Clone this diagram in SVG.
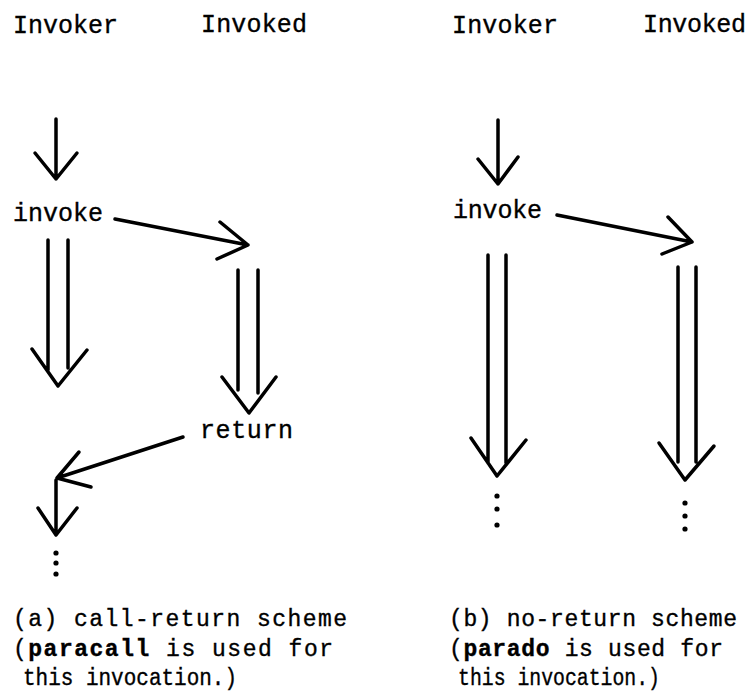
<svg xmlns="http://www.w3.org/2000/svg" width="751" height="691" viewBox="0 0 751 691">
<style>
text{font-family:"Liberation Mono","Courier New",monospace;font-size:25px;fill:#000;stroke:#000;stroke-width:0.35}
.cap{font-size:23px}
.b{font-weight:bold}
.ln{fill:none;stroke:#000;stroke-width:3.5;stroke-linecap:round;stroke-linejoin:round}
.dot{fill:#000}
</style>
<rect width="751" height="691" fill="#fff"/>
<g id="header-invoker-a"><text x="13" y="33" textLength="105">Invoker</text></g>
<g id="header-invoked-a"><text x="201" y="32" textLength="106">Invoked</text></g>
<g id="header-invoker-b"><text x="452" y="33" textLength="106">Invoker</text></g>
<g id="header-invoked-b"><text x="643" y="32" textLength="103">Invoked</text></g>
<g id="invoke-a"><text x="13" y="221" textLength="90">invoke</text></g>
<g id="return-a"><text x="200" y="438" textLength="93">return</text></g>
<g id="invoke-b"><text x="453" y="218" textLength="89">invoke</text></g>
<g id="connectors">
<path class="ln" d="M56 119V179M35 153L56 179L77 153"/>
<path class="ln" d="M115 219L248 245M220 222L248 245L217 259"/>
<path class="ln" d="M48 240V370M68 240V368M32 349L58 386L87 350"/>
<path class="ln" d="M238 270V390M258 270V393M222 377L249 413L276 377"/>
<path class="ln" d="M183 437L57 478M79 452L57 478L91 487"/>
<path class="ln" d="M56 480V533M38 508L56 535L77 508"/>
<circle class="dot" cx="56" cy="553" r="2.6"/><circle class="dot" cx="56" cy="563" r="2.6"/><circle class="dot" cx="56" cy="574" r="2.6"/>
<path class="ln" d="M498 120V184M478 159L498 184L518 157"/>
<path class="ln" d="M557 215L692 242M668 217L692 242L662 254"/>
<path class="ln" d="M488 255V463M506 255V463M471 438L497 476L526 440"/>
<path class="ln" d="M678 267V462M696 267V462M659 443L685 480L714 446"/>
<circle class="dot" cx="497" cy="496" r="2.6"/><circle class="dot" cx="497" cy="509" r="2.6"/><circle class="dot" cx="497" cy="525" r="2.6"/>
<circle class="dot" cx="685" cy="503" r="2.6"/><circle class="dot" cx="685" cy="516" r="2.6"/><circle class="dot" cx="685" cy="529" r="2.6"/>
</g>
<g id="caption-a">
<text class="cap" x="13" y="626" textLength="334">(a) call-return scheme</text>
<text class="cap" x="13" y="656" textLength="320">(<tspan class="b">paracall</tspan> is used for</text>
<text class="cap" x="23" y="685" textLength="214" lengthAdjust="spacingAndGlyphs">this invocation.)</text>
</g>
<g id="caption-b">
<text class="cap" x="449" y="626" textLength="288">(b) no-return scheme</text>
<text class="cap" x="449" y="656" textLength="274">(<tspan class="b">parado</tspan> is used for</text>
<text class="cap" x="458" y="685" textLength="202" lengthAdjust="spacingAndGlyphs">this invocation.)</text>
</g>
</svg>
